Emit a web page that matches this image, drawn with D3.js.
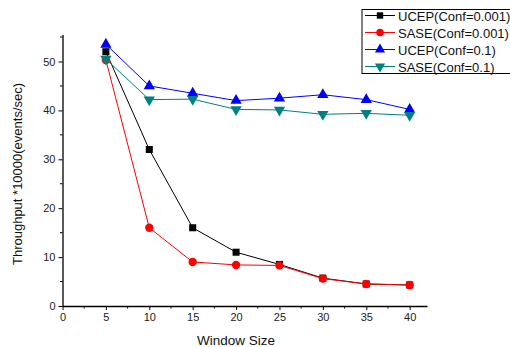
<!DOCTYPE html>
<html>
<head>
<meta charset="utf-8">
<script src="https://cdn.jsdelivr.net/npm/d3@7"></script>
<style>
  body { margin: 0; background: #fff; overflow: hidden; }
  svg { font-family: "Liberation Sans", Arial, sans-serif; }
</style>
</head>
<body>
<script>
const windowSizes = [5, 10, 15, 20, 25, 30, 35, 40];
const ucep001 = [52, 32, 16, 11, 8.5, 5.7, 4.5, 4.3];
const sase001 = [50.3, 16, 9, 8.4, 8.3, 5.6, 4.5, 4.3];
const ucep01 = [53.5, 45, 43.5, 42, 42.5, 43.2, 42.2, 40.2];
const sase01 = [50.5, 42.2, 42.3, 40.2, 40.1, 39.2, 39.4, 39];
const seriesNames = ["UCEP(Conf=0.001)", "SASE(Conf=0.001)", "UCEP(Conf=0.1)", "SASE(Conf=0.1)"];
const xTicks = [0, 5, 10, 15, 20, 25, 30, 35, 40];
const yTicks = [0, 10, 20, 30, 40, 50];

const series = [
  {name: seriesNames[0], values: ucep001, color: "#000000", symbol: "square"},
  {name: seriesNames[1], values: sase001, color: "#ff0000", symbol: "circle"},
  {name: seriesNames[2], values: ucep01, color: "#0000ff", symbol: "up"},
  {name: seriesNames[3], values: sase01, color: "#008080", symbol: "down"}
];

const width = 510, height = 347;
const svg = d3.select("body").append("svg")
  .attr("width", width).attr("height", height);

const x = d3.scaleLinear().domain([0, 42]).range([62.5, 427]);
const y = d3.scaleLinear().domain([0, 55.5]).range([306, 34.6]);

// axes
const xAxis = svg.append("g").attr("transform", `translate(0,${y(0)})`)
  .call(d3.axisBottom(x).tickValues(xTicks).tickSize(4).tickPadding(3).tickSizeOuter(0));
const yAxis = svg.append("g").attr("transform", `translate(${x(0)},0)`)
  .call(d3.axisLeft(y).tickValues(yTicks).tickSize(4).tickPadding(3).tickSizeOuter(0));

// minor ticks
svg.append("g").selectAll("line")
  .data(d3.range(2.5, 42, 5))
  .enter().append("line")
  .attr("x1", d => x(d)).attr("x2", d => x(d))
  .attr("y1", y(0)).attr("y2", y(0) + 2.5)
  .attr("stroke", "#000");
svg.append("g").selectAll("line")
  .data(d3.range(5, 56, 10))
  .enter().append("line")
  .attr("y1", d => y(d)).attr("y2", d => y(d))
  .attr("x1", x(0)).attr("x2", x(0) - 2.5)
  .attr("stroke", "#000");

[xAxis, yAxis].forEach(a => {
  a.selectAll(".domain").attr("stroke", "#000").attr("stroke-width", 1.3);
  a.selectAll("text").attr("font-size", 11).attr("fill", "#222")
    .attr("font-family", "'Liberation Sans', Arial, sans-serif");
});

// axis titles
svg.append("text")
  .attr("x", x(20)).attr("y", 345)
  .attr("text-anchor", "middle").attr("font-size", 13.5).attr("fill", "#111")
  .text("Window Size");
svg.append("text")
  .attr("transform", `translate(22,${y(27)}) rotate(-90)`)
  .attr("text-anchor", "middle").attr("font-size", 13).attr("fill", "#111")
  .text("Throughput *10000(events/sec)");

const symbolPath = (type, size) => {
  if (type === "square") return d3.symbol(d3.symbolSquare, size * 0.9)();
  if (type === "circle") return d3.symbol(d3.symbolCircle, size)();
  return d3.symbol(d3.symbolTriangle, size)();
};

const line = d3.line().x((d, i) => x(windowSizes[i])).y(d => y(d));

series.forEach(s => {
  const g = svg.append("g");
  g.append("path")
    .attr("d", line(s.values))
    .attr("fill", "none").attr("stroke", s.color).attr("stroke-width", 1);
  g.selectAll("path.m")
    .data(s.values)
    .enter().append("path")
    .attr("class", "m")
    .attr("d", symbolPath(s.symbol, 55))
    .attr("transform", (d, i) => `translate(${x(windowSizes[i])},${y(d)})` + (s.symbol === "down" ? " rotate(180)" : ""))
    .attr("fill", s.color);
});

// legend
const lg = svg.append("g").attr("transform", "translate(362,9.5)");
lg.append("rect").attr("x", 0).attr("y", 0).attr("width", 170).attr("height", 64)
  .attr("fill", "#fff").attr("stroke", "#000").attr("stroke-width", 1);
series.forEach((s, i) => {
  const ry = 6 + i * 17;
  lg.append("line").attr("x1", 3).attr("x2", 33).attr("y1", ry).attr("y2", ry)
    .attr("stroke", s.color).attr("stroke-width", 1);
  lg.append("path")
    .attr("d", symbolPath(s.symbol, 45))
    .attr("transform", `translate(18,${ry})` + (s.symbol === "down" ? " rotate(180)" : ""))
    .attr("fill", s.color);
  lg.append("text").attr("x", 36).attr("y", ry + 5)
    .attr("font-size", 13).attr("fill", "#111")
    .text(s.name);
});
</script>
</body>
</html>
